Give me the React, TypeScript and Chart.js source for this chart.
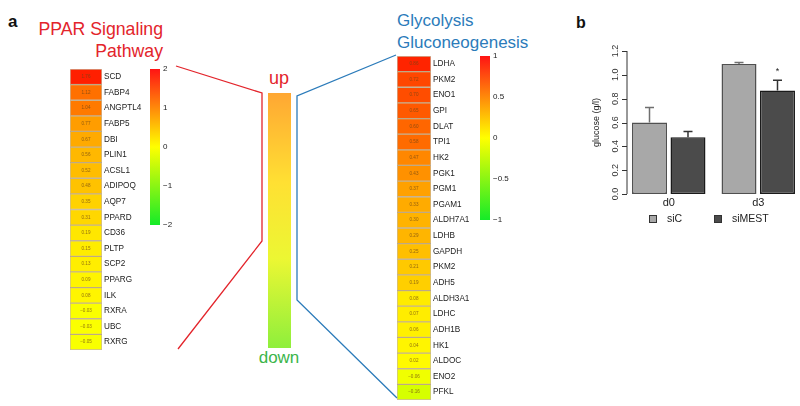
import React, { useEffect, useRef } from "react";
import { Chart, registerables } from "chart.js";

Chart.register(...registerables);

// ---------- DATA ----------
const pparGenes = ["SCD", "FABP4", "ANGPTL4", "FABP5", "DBI", "PLIN1", "ACSL1", "ADIPOQ", "AQP7", "PPARD", "CD36", "PLTP", "SCP2", "PPARG", "ILK", "RXRA", "UBC", "RXRG"];
const pparValues = [1.76, 1.12, 1.04, 0.77, 0.67, 0.56, 0.52, 0.48, 0.35, 0.31, 0.19, 0.15, 0.13, 0.09, 0.08, -0.03, -0.03, -0.05];
const pparScaleTicks = [2, 1, 0, -1, -2];

const glyGenes = ["LDHA", "PKM2", "ENO1", "GPI", "DLAT", "TPI1", "HK2", "PGK1", "PGM1", "PGAM1", "ALDH7A1", "LDHB", "GAPDH", "PKM2", "ADH5", "ALDH3A1", "LDHC", "ADH1B", "HK1", "ALDOC", "ENO2", "PFKL"];
const glyValues = [0.86, 0.72, 0.7, 0.65, 0.6, 0.58, 0.47, 0.43, 0.37, 0.33, 0.3, 0.29, 0.25, 0.21, 0.19, 0.08, 0.07, 0.06, 0.04, 0.02, -0.06, -0.16];
const glyScaleTicks = [1, 0.5, 0, -0.5, -1];

const barCategories = ["d0", "d3"];
const seriesNames = ["siC", "siMEST"];
const siCValues = [0.6, 1.09];
const siCErrors = [0.126, 0.014];
const siMESTValues = [0.477, 0.868];
const siMESTErrors = [0.048, 0.087];
const siMESTMarks = ["", "*"];
const glucoseTicks = [0, 0.2, 0.4, 0.6, 0.8, 1.0, 1.2];

const FONT = "'Liberation Sans', Arial, Helvetica, sans-serif";

function fmtMinus(s: string) {
  return s.replace("-", "\u2212");
}

function heatColor(v: number, lim: number) {
  const t = Math.max(-1, Math.min(1, v / lim));
  if (t >= 0) return `rgb(255, ${Math.round(255 * (1 - t))}, 0)`;
  return `rgb(${Math.round(255 * (1 + t))}, 255, 0)`;
}

function Heatmap(props: { genes: string[]; values: number[]; lim: number; left: number; top: number; cellWidth: number; height: number; labelWidth: number }) {
  const { genes, values, lim, left, top, cellWidth, height, labelWidth } = props;
  const ref = useRef<HTMLCanvasElement>(null);
  const width = cellWidth + labelWidth;
  useEffect(() => {
    const valuePlugin = {
      id: "cellValues",
      afterDatasetsDraw(chart: any) {
        const ctx = chart.ctx;
        const meta = chart.getDatasetMeta(0);
        ctx.save();
        ctx.font = `4.6px ${FONT}`;
        ctx.fillStyle = "rgba(110,70,20,0.75)";
        ctx.textAlign = "center";
        ctx.textBaseline = "middle";
        meta.data.forEach((el: any, i: number) => {
          const p = el.getProps(["x", "y", "base"], true);
          ctx.fillText(fmtMinus(values[i].toFixed(2)), (p.x + p.base) / 2, p.y);
        });
        ctx.restore();
      },
    };
    const chart = new Chart(ref.current as HTMLCanvasElement, {
      type: "bar",
      data: {
        labels: genes,
        datasets: [
          {
            data: values.map(() => [0, 1]) as any,
            backgroundColor: values.map((v) => heatColor(v, lim)),
            borderColor: "rgba(160,130,80,0.55)",
            borderWidth: 1,
            borderSkipped: false,
            barPercentage: 1,
            categoryPercentage: 1,
          },
        ],
      },
      options: {
        indexAxis: "y",
        animation: false,
        responsive: false,
        maintainAspectRatio: false,
        events: [],
        layout: { padding: 0 },
        plugins: { legend: { display: false }, tooltip: { enabled: false } },
        scales: {
          x: { display: false, min: 0, max: 1 },
          y: {
            position: "right",
            grid: { display: false, drawTicks: false },
            border: { display: false },
            ticks: { padding: 2, color: "#222", autoSkip: false, font: { family: FONT, size: 8.2 } },
            afterFit: (s: any) => {
              s.width = labelWidth;
              s.paddingTop = 0;
              s.paddingBottom = 0;
            },
          },
        },
      } as any,
      plugins: [valuePlugin],
    });
    return () => chart.destroy();
  }, []);
  return <canvas ref={ref} width={width} height={height} style={{ position: "absolute", left, top, width, height }} />;
}

function ColorKey(props: { lim: number; ticks: number[]; left: number; top: number; barWidth: number; height: number }) {
  const { lim, ticks, left, top, barWidth, height } = props;
  const ref = useRef<HTMLCanvasElement>(null);
  const pad = 6;
  const labelWidth = 28;
  useEffect(() => {
    const chart = new Chart(ref.current as HTMLCanvasElement, {
      type: "bar",
      data: {
        labels: ["key"],
        datasets: [
          {
            data: [[-lim, lim]] as any,
            backgroundColor: (c: any) => {
              const a = c.chart.chartArea;
              if (!a) return "yellow";
              const g = c.chart.ctx.createLinearGradient(0, a.top, 0, a.bottom);
              g.addColorStop(0, "rgb(255,20,20)");
              g.addColorStop(0.5, "rgb(255,255,0)");
              g.addColorStop(1, "rgb(20,235,40)");
              return g;
            },
            borderWidth: 0,
            barPercentage: 1,
            categoryPercentage: 1,
          },
        ],
      },
      options: {
        animation: false,
        responsive: false,
        maintainAspectRatio: false,
        events: [],
        layout: { padding: { top: pad, bottom: pad } },
        plugins: { legend: { display: false }, tooltip: { enabled: false } },
        scales: {
          x: { display: false },
          y: {
            position: "right",
            min: -lim,
            max: lim,
            grid: { display: false, drawTicks: false },
            border: { display: false },
            afterBuildTicks: (s: any) => {
              s.ticks = ticks.map((v) => ({ value: v }));
            },
            ticks: {
              padding: 3,
              color: "#222",
              font: { family: FONT, size: 8 },
              callback: (v: any) => fmtMinus(String(v)),
            },
            afterFit: (s: any) => {
              s.width = labelWidth;
              s.paddingTop = 0;
              s.paddingBottom = 0;
            },
          },
        },
      } as any,
    });
    return () => chart.destroy();
  }, []);
  const w = barWidth + labelWidth;
  const h = height + 2 * pad;
  return <canvas ref={ref} width={w} height={h} style={{ position: "absolute", left, top: top - pad, width: w, height: h }} />;
}

function GlucoseBars() {
  const ref = useRef<HTMLCanvasElement>(null);
  useEffect(() => {
    const extras = {
      id: "rstyle",
      afterDatasetsDraw(chart: any) {
        const ctx = chart.ctx;
        const ys = chart.scales.y;
        const area = chart.chartArea;
        ctx.save();
        // error bars
        const errs = [siCErrors, siMESTErrors];
        const errColors = ["#6f6f6f", "#333333"];
        [siCValues, siMESTValues].forEach((vals, di) => {
          const meta = chart.getDatasetMeta(di);
          meta.data.forEach((el: any, i: number) => {
            const x = el.x;
            const y0 = ys.getPixelForValue(vals[i]);
            const y1 = ys.getPixelForValue(vals[i] + errs[di][i]);
            ctx.strokeStyle = errColors[di];
            ctx.lineWidth = 1.5;
            ctx.beginPath();
            ctx.moveTo(x, y0);
            ctx.lineTo(x, y1);
            ctx.moveTo(x - 4.5, y1);
            ctx.lineTo(x + 4.5, y1);
            ctx.stroke();
            if (di === 1 && siMESTMarks[i]) {
              ctx.fillStyle = "#222";
              ctx.font = `9px ${FONT}`;
              ctx.textAlign = "center";
              ctx.textBaseline = "alphabetic";
              ctx.fillText(siMESTMarks[i], x, y1 - 6);
            }
          });
        });
        // y axis (R style)
        const ax = area.left + 3;
        ctx.strokeStyle = "#333";
        ctx.lineWidth = 1;
        ctx.beginPath();
        ctx.moveTo(ax, ys.getPixelForValue(glucoseTicks[0]));
        ctx.lineTo(ax, ys.getPixelForValue(glucoseTicks[glucoseTicks.length - 1]));
        glucoseTicks.forEach((t) => {
          const y = Math.round(ys.getPixelForValue(t)) + 0.5;
          ctx.moveTo(ax, y);
          ctx.lineTo(ax - 5, y);
        });
        ctx.stroke();
        ctx.fillStyle = "#333";
        ctx.font = `9px ${FONT}`;
        ctx.textAlign = "center";
        ctx.textBaseline = "middle";
        glucoseTicks.forEach((t) => {
          const y = ys.getPixelForValue(t);
          ctx.save();
          ctx.translate(ax - 11, y);
          ctx.rotate(-Math.PI / 2);
          ctx.fillText(t.toFixed(1), 0, 0);
          ctx.restore();
        });
        // y title
        ctx.save();
        ctx.translate(ax - 30, ys.getPixelForValue(0.6));
        ctx.rotate(-Math.PI / 2);
        ctx.font = `9px ${FONT}`;
        ctx.fillStyle = "#222";
        ctx.fillText("glucose (g/l)", 0, 0);
        ctx.restore();
        // category labels
        const xs = chart.scales.x;
        ctx.font = `11px ${FONT}`;
        ctx.fillStyle = "#222";
        ctx.textBaseline = "alphabetic";
        barCategories.forEach((c, i) => {
          ctx.fillText(c, xs.getPixelForValue(i), area.bottom + 12);
        });
        // legend
        const fills = ["#a8a8a8", "#4b4b4b"];
        const legX = [area.left + 25, area.left + 90];
        ctx.font = `10.5px ${FONT}`;
        ctx.textAlign = "left";
        ctx.textBaseline = "middle";
        seriesNames.forEach((n, i) => {
          const lx = legX[i];
          const ly = area.bottom + 25;
          ctx.fillStyle = fills[i];
          ctx.fillRect(lx, ly - 3.5, 8, 7);
          ctx.strokeStyle = "#333";
          ctx.lineWidth = 1;
          ctx.strokeRect(lx + 0.5, ly - 3.5, 7, 7);
          ctx.fillStyle = "#222";
          ctx.fillText(n, lx + 18, ly + 0.5);
        });
        ctx.restore();
      },
    };
    const chart = new Chart(ref.current as HTMLCanvasElement, {
      type: "bar",
      data: {
        labels: barCategories,
        datasets: [
          {
            label: seriesNames[0],
            data: siCValues,
            backgroundColor: "#a8a8a8",
            borderColor: "#505050",
            borderWidth: 1.5,
            borderSkipped: false,
            barPercentage: 0.909,
            categoryPercentage: 0.86,
          },
          {
            label: seriesNames[1],
            data: siMESTValues,
            backgroundColor: "#4b4b4b",
            borderColor: "#1a1a1a",
            borderWidth: 1.5,
            borderSkipped: false,
            barPercentage: 0.909,
            categoryPercentage: 0.86,
          },
        ],
      },
      options: {
        animation: false,
        responsive: false,
        maintainAspectRatio: false,
        events: [],
        layout: { padding: { left: 64, right: 3, top: 21, bottom: 36 } },
        plugins: { legend: { display: false }, tooltip: { enabled: false } },
        scales: {
          x: { display: false },
          y: { display: false, min: 0, max: 1.2 },
        },
      } as any,
      plugins: [extras],
    });
    return () => chart.destroy();
  }, []);
  return <canvas ref={ref} width={246} height={200} style={{ position: "absolute", left: 560, top: 30, width: 246, height: 200 }} />;
}

export default function App() {
  const red = "#e3242b";
  const blue = "#2b7bba";
  return (
    <div style={{ position: "fixed", left: 0, top: 0, width: 800, height: 406, overflow: "hidden", background: "#fff", fontFamily: FONT }}>
      <svg width={800} height={406} style={{ position: "absolute", left: 0, top: 0 }}>
        <defs>
          <linearGradient id="updown" x1="0" y1="0" x2="0" y2="1">
            <stop offset="0" stopColor="#ffa733" />
            <stop offset="0.35" stopColor="#ffe033" />
            <stop offset="0.65" stopColor="#ecf733" />
            <stop offset="1" stopColor="#8eef3c" />
          </linearGradient>
        </defs>
        <text x={8} y={27} fontSize={17} fontWeight="bold" fill="#111" fontFamily={FONT}>a</text>
        <text x={576} y={28} fontSize={16} fontWeight="bold" fill="#111" fontFamily={FONT}>b</text>
        <text x={163} y={35} fontSize={17.7} fill={red} textAnchor="end" fontFamily={FONT}>PPAR Signaling</text>
        <text x={163} y={57} fontSize={17.7} fill={red} textAnchor="end" fontFamily={FONT}>Pathway</text>
        <text x={397} y={26} fontSize={17} fill={blue} fontFamily={FONT}>Glycolysis</text>
        <text x={397} y={48} fontSize={17} fill={blue} fontFamily={FONT}>Gluconeogenesis</text>
        <polyline points="176,66 262,93 262,241 178,349" fill="none" stroke={red} strokeWidth={1.3} />
        <polyline points="396,55 297,96 297,300 397,398" fill="none" stroke={blue} strokeWidth={1.3} />
        <rect x={268} y={93} width={23} height={255} fill="url(#updown)" />
        <text x={279} y={84} fontSize={18} fill={red} textAnchor="middle" fontFamily={FONT}>up</text>
        <text x={279} y={363} fontSize={17} fill="#3bb54a" textAnchor="middle" fontFamily={FONT}>down</text>
      </svg>
      <Heatmap genes={pparGenes} values={pparValues} lim={2} left={70} top={69} cellWidth={32} height={281} labelWidth={42} />
      <ColorKey lim={2} ticks={pparScaleTicks} left={150} top={69} barWidth={10} height={156} />
      <Heatmap genes={glyGenes} values={glyValues} lim={1} left={397} top={56} cellWidth={34} height={344} labelWidth={50} />
      <ColorKey lim={1} ticks={glyScaleTicks} left={480} top={56} barWidth={10} height={164} />
      <GlucoseBars />
    </div>
  );
}
